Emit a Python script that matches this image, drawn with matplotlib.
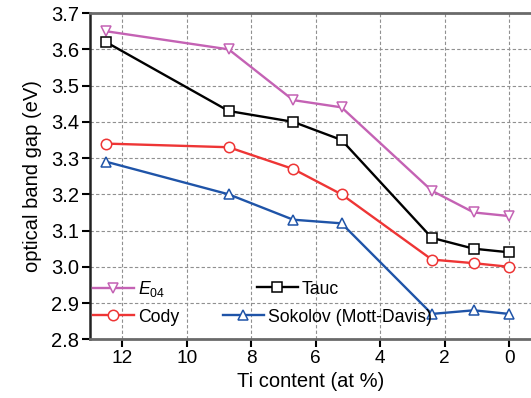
import matplotlib
matplotlib.use("Agg")
import matplotlib.pyplot as plt
from matplotlib.legend import Legend

# Ti content (at %) and optical band gaps (eV)
ti = [12.5, 8.7, 6.7, 5.2, 2.4, 1.1, 0.0]
e04 = [3.65, 3.60, 3.46, 3.44, 3.21, 3.15, 3.14]
tauc = [3.62, 3.43, 3.40, 3.35, 3.08, 3.05, 3.04]
cody = [3.34, 3.33, 3.27, 3.20, 3.02, 3.01, 3.00]
sokolov = [3.29, 3.20, 3.13, 3.12, 2.87, 2.88, 2.87]

plt.rcParams["font.family"] = ["Liberation Sans", "DejaVu Sans"]
plt.rcParams["mathtext.fontset"] = "custom"
plt.rcParams["mathtext.it"] = "Liberation Sans:italic"
plt.rcParams["mathtext.rm"] = "Liberation Sans"

fig = plt.figure(figsize=(5.31, 3.98), dpi=100)
ax = fig.add_axes([0.1695, 0.1475, 0.832, 0.8195])

series = [
    (e04, "#c462b4", "v", r"$E_{04}$"),
    (cody, "#ee3535", "o", "Cody"),
    (tauc, "black", "s", "Tauc"),
    (sokolov, "#1f54a8", "^", "Sokolov (Mott-Davis)"),
]
lines = []
for vals, col, mk, lab in series:
    ln, = ax.plot(ti, vals, color=col, lw=1.7, marker=mk, ms=7.5, mfc="white",
                  mec=col, mew=1.1, label=lab, zorder=3)
    lines.append(ln)

ax.set_xlim(13, -0.7)
ax.set_ylim(2.8, 3.7)
ax.set_xticks([12, 10, 8, 6, 4, 2, 0])
ax.set_yticks([2.8, 2.9, 3.0, 3.1, 3.2, 3.3, 3.4, 3.5, 3.6, 3.7])
ax.set_yticklabels([f"{v:.1f}" for v in ax.get_yticks()])
ax.grid(True, ls=(0, (3, 2)), color="#909090", lw=0.8)
ax.tick_params(length=5.5, width=1.5, direction="out", pad=2.5)
ax.tick_params(axis="x", labelsize=13.7)
ax.tick_params(axis="y", labelsize=14.5)
ax.spines["right"].set_visible(False)
ax.spines["left"].set_color("#222222")
ax.spines["left"].set_linewidth(1.8)
for s in ("top", "bottom"):
    ax.spines[s].set_color("#6a6a6a")
    ax.spines[s].set_linewidth(2)

ax.set_xlabel("Ti content (at %)", fontsize=14.5, labelpad=3)
ax.set_ylabel("optical band gap (eV)", fontsize=14.5, labelpad=6)

# legend entries placed one by one, as in the original figure
spots = [(0.007, 0.154), (0.007, 0.068), (0.378, 0.154), (0.301, 0.068)]
for ln, (lx, ly) in zip(lines, spots):
    leg = Legend(ax, [ln], [ln.get_label()], loc="center left",
                 bbox_to_anchor=(lx, ly), frameon=False, fontsize=12.7,
                 handlelength=2.3, handletextpad=0.25, borderpad=0,
                 borderaxespad=0)
    ax.add_artist(leg)

fig.savefig("out.png", dpi=100)
